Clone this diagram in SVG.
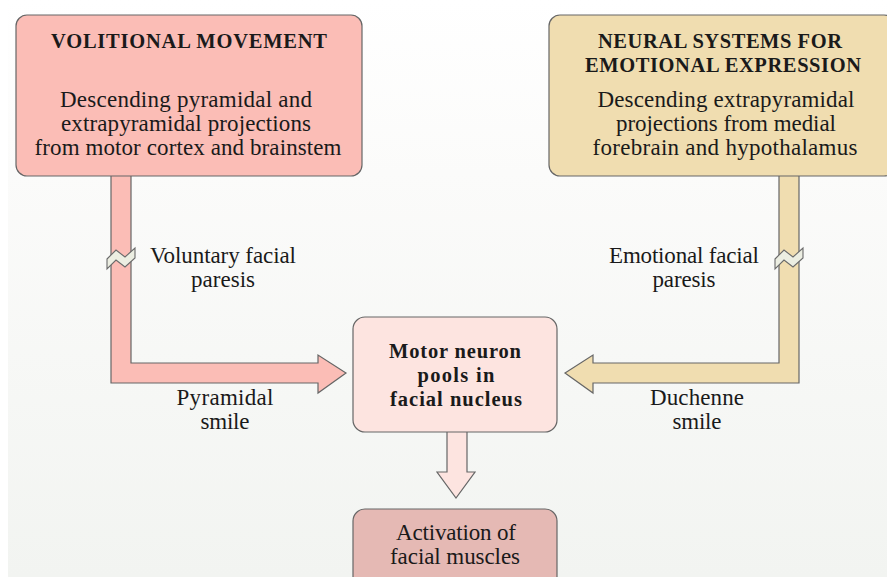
<svg xmlns="http://www.w3.org/2000/svg" width="887" height="577" viewBox="0 0 887 577">
<defs>
<linearGradient id="bg" x1="0" y1="0" x2="0" y2="1">
<stop offset="0" stop-color="#ffffff"/>
<stop offset="0.3" stop-color="#fbfbfa"/>
<stop offset="1" stop-color="#f2f4f1"/>
</linearGradient>
<style>
.t{font-family:"Liberation Serif","Times New Roman",serif;font-size:23px;fill:#1a1a1a;text-anchor:middle}
.b{font-weight:bold;font-size:20.5px}
.bx{stroke:#666;stroke-width:1.2}
.pipe{stroke:#666;stroke-width:1.2;stroke-linejoin:miter}
.brk{fill:#eceee2;stroke:#6a6a6a;stroke-width:1.1}
</style>
</defs>
<rect x="0" y="0" width="887" height="577" fill="#ffffff"/>
<rect x="8" y="0" width="879" height="577" fill="url(#bg)"/>

<g id="connectors">
<path class="pipe" fill="#fbbdb6" d="M111,176 L111,383 L318,383 L318,393 L346,373 L318,355 L318,363 L131,363 L131,176"/>
<path class="brk" d="M107,259 L116,250 L125,257 L135,248 L135,258 L125,267 L116,260 L107,269 Z"/>
<path class="pipe" fill="#f0ddb0" d="M799,176 L799,383 L593,383 L593,393 L565,373 L593,355 L593,363 L779,363 L779,176"/>
<path class="brk" d="M775,259 L784,250 L793,257 L803,248 L803,258 L793,267 L784,260 L775,269 Z"/>
<path class="pipe" fill="#fde4e0" d="M447,432 L447,472 L437,472 L456,498 L475,472 L467,472 L467,432"/>
</g>

<g id="volitional">
<rect class="bx" x="16" y="15" width="346" height="161" rx="11" fill="#fbbdb6"/>
<text class="t b" x="189" y="48" textLength="276">VOLITIONAL MOVEMENT</text>
<text class="t" x="186" y="107" textLength="252">Descending pyramidal and</text>
<text class="t" x="186" y="131" textLength="250">extrapyramidal projections</text>
<text class="t" x="188" y="155" textLength="307">from motor cortex and brainstem</text>
</g>

<g id="emotional">
<rect class="bx" x="549" y="15" width="346" height="161" rx="11" fill="#f0ddb0"/>
<text class="t b" x="720" y="48" textLength="244">NEURAL SYSTEMS FOR</text>
<text class="t b" x="723" y="72" textLength="276">EMOTIONAL EXPRESSION</text>
<text class="t" x="726" y="107" textLength="257">Descending extrapyramidal</text>
<text class="t" x="726" y="131" textLength="220">projections from medial</text>
<text class="t" x="725" y="155" textLength="265">forebrain and hypothalamus</text>
</g>

<g id="labels">
<text class="t" x="223" y="263" textLength="146">Voluntary facial</text>
<text class="t" x="223" y="287" textLength="64">paresis</text>
<text class="t" x="684" y="263" textLength="150">Emotional facial</text>
<text class="t" x="684" y="287" textLength="63">paresis</text>
<text class="t" x="225" y="405" textLength="97">Pyramidal</text>
<text class="t" x="225" y="429" textLength="49">smile</text>
<text class="t" x="697" y="405" textLength="94">Duchenne</text>
<text class="t" x="697" y="429" textLength="49">smile</text>
</g>

<g id="motor-neuron">
<rect class="bx" x="353" y="317" width="204" height="115" rx="12" fill="#fde4e0"/>
<text class="t b" x="455" y="358" textLength="132">Motor neuron</text>
<text class="t b" x="456" y="382" textLength="77">pools in</text>
<text class="t b" x="456" y="406" textLength="132">facial nucleus</text>
</g>

<g id="activation">
<rect class="bx" x="353" y="509" width="204" height="80" rx="12" fill="#e5b9b4"/>
<text class="t" x="456" y="540" textLength="120">Activation of</text>
<text class="t" x="455" y="564" textLength="130">facial muscles</text>
</g>
</svg>
